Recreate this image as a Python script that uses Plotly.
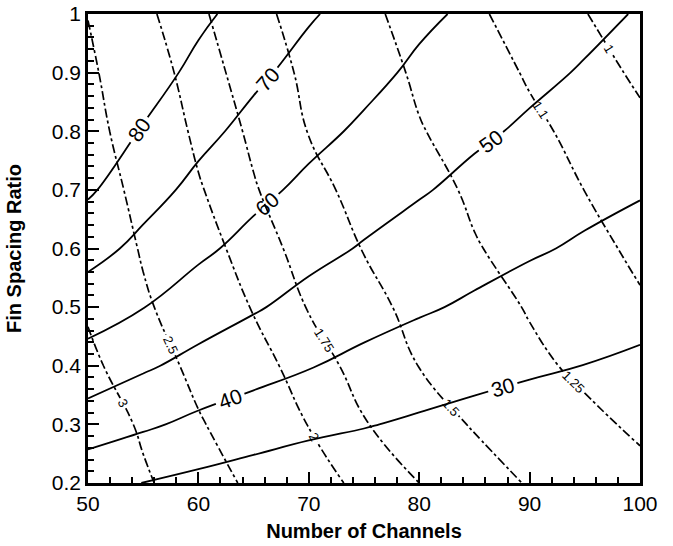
import plotly.graph_objects as go

# Grid (Number of Channels, Fin Spacing Ratio)
channels = [50, 55, 60, 65, 70, 75, 80, 85, 90, 95, 100]
spacing = [0.2, 0.3, 0.4, 0.5, 0.6, 0.7, 0.8, 0.9, 1.0]

# Solid contour field (values 30..80), rows = spacing, cols = channels
field_solid = [
    [32.8, 29.9, 27.6, 25.4, 23.9, 23.4, 22.2, 21.4, 21.1, 20.9, 20.2],
    [45.4, 41.5, 37.8, 35.0, 32.3, 30.5, 28.7, 27.2, 26.1, 25.4, 24.4],
    [55.8, 51.3, 47.1, 43.6, 40.5, 37.6, 35.1, 32.9, 31.2, 29.9, 28.5],
    [64.9, 60.2, 55.0, 50.9, 47.0, 43.7, 41.1, 38.7, 36.3, 34.4, 32.7],
    [73.4, 67.5, 61.9, 57.0, 52.7, 49.3, 46.1, 43.3, 41.0, 38.9, 36.8],
    [81.3, 73.6, 67.5, 62.4, 57.9, 54.0, 50.8, 47.6, 44.9, 42.5, 40.7],
    [89.0, 79.2, 72.6, 67.2, 62.6, 58.5, 54.5, 51.5, 48.7, 45.9, 43.6],
    [96.5, 84.7, 77.4, 71.8, 66.8, 62.6, 58.3, 54.9, 52.0, 49.3, 46.5],
    [104.0, 90.3, 82.1, 76.0, 70.9, 66.5, 61.8, 58.3, 55.0, 52.2, 49.4],
]
solid_levels = [30, 40, 50, 60, 70, 80]

# Dash-dot contour field
field_dash = [
    [3.43, 3.068, 2.726, 2.409, 2.14, 1.919, 1.75, 1.611, 1.482, 1.393, 1.304],
    [3.32, 2.93, 2.539, 2.258, 1.991, 1.764, 1.615, 1.481, 1.387, 1.293, 1.219],
    [3.108, 2.723, 2.387, 2.118, 1.863, 1.66, 1.496, 1.393, 1.291, 1.2125, 1.15],
    [2.946, 2.56, 2.261, 1.98, 1.736, 1.568, 1.437, 1.332, 1.236, 1.174, 1.112],
    [2.85, 2.46, 2.141, 1.86, 1.655, 1.491, 1.376, 1.261, 1.193, 1.13, 1.08],
    [2.75, 2.365, 2.027, 1.77, 1.57, 1.427, 1.314, 1.223, 1.161, 1.099, 1.06],
    [2.65, 2.268, 1.9375, 1.703, 1.493, 1.376, 1.259, 1.189, 1.124, 1.069, 1.02],
    [2.58, 2.172, 1.865, 1.634, 1.451, 1.328, 1.225, 1.154, 1.088, 1.036, 0.985],
    [2.49, 2.068, 1.794, 1.564, 1.41, 1.285, 1.194, 1.116, 1.057, 1.003, 0.95],
]
dash_levels = [3, 2.5, 2, 1.75, 1.5, 1.25, 1.1, 1]

x_ticks = [50, 60, 70, 80, 90, 100]
y_ticks = [0.2, 0.3, 0.4, 0.5, 0.6, 0.7, 0.8, 0.9, 1]
y_tick_text = ["0.2", "0.3", "0.4", "0.5", "0.6", "0.7", "0.8", "0.9", "1"]

FONT = "Liberation Sans, Arial, sans-serif"

fig = go.Figure()

fig.add_trace(go.Contour(
    x=channels, y=spacing, z=field_solid,
    contours=dict(start=min(solid_levels), end=max(solid_levels), size=10,
                  coloring="none", showlabels=True,
                  labelfont=dict(family=FONT, size=21, color="black")),
    line=dict(color="black", width=1.8, smoothing=1.3),
    showscale=False, hoverinfo="skip",
))

for lev in dash_levels:
    fig.add_trace(go.Contour(
        x=channels, y=spacing, z=field_dash,
        contours=dict(start=lev, end=lev, size=10,
                      coloring="none", showlabels=True,
                      labelfont=dict(family=FONT, size=13, color="black")),
        line=dict(color="black", width=1.7, dash="dashdot", smoothing=1.3),
        showscale=False, hoverinfo="skip",
    ))

axis_common = dict(
    showgrid=False, zeroline=False, automargin=False,
    showline=True, linecolor="black", linewidth=2.5, mirror=True,
    ticks="inside", tickcolor="black", tickwidth=2, ticklen=11,
    ticklabeloverflow="allow",
    tickfont=dict(family=FONT, size=21, color="black"),
)

fig.update_xaxes(
    range=[50, 100], tickvals=x_ticks,
    minor=dict(ticks="inside", dtick=2, ticklen=6, tickcolor="black", tickwidth=1.5),
    title=dict(text="<b>Number of Channels</b>", font=dict(family=FONT, size=20, color="black"), standoff=11),
    **axis_common,
)
fig.update_yaxes(
    range=[0.2, 1.0], tickvals=y_ticks, ticktext=y_tick_text,
    minor=dict(ticks="inside", dtick=0.02, ticklen=6, tickcolor="black", tickwidth=1.5),
    title=dict(text="<b>Fin Spacing Ratio</b>", font=dict(family=FONT, size=20, color="black"), standoff=25),
    **axis_common,
)

fig.update_layout(
    width=673, height=546,
    margin=dict(l=88, r=33, t=14, b=63),
    paper_bgcolor="white", plot_bgcolor="white",
    showlegend=False,
)

# remove the default 8px page margin so the figure fills the window exactly
fig.write_html("out.html",
               config={"displayModeBar": False},
               post_script="document.body.style.margin='0';document.body.style.overflow='hidden';")
